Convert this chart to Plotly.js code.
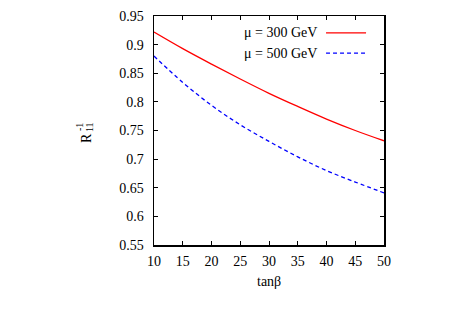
<!DOCTYPE html>
<html>
<head>
<meta charset="utf-8">
<script src="https://cdn.plot.ly/plotly-3.0.1.min.js"></script>
<style>html,body{margin:0;padding:0;background:#fff;}#chart{width:457px;height:319px;}</style>
</head>
<body>
<div id="chart"></div>
<script>
const tanBeta = [10, 15, 20, 25, 30, 35, 40, 45, 50];
const mu300 = [0.922, 0.893, 0.866, 0.840, 0.815, 0.792, 0.770, 0.750, 0.732];
const mu500 = [0.880, 0.834, 0.794, 0.760, 0.731, 0.704, 0.680, 0.660, 0.641];
const xTicks = [10, 15, 20, 25, 30, 35, 40, 45, 50];
const yTicks = [0.55, 0.6, 0.65, 0.7, 0.75, 0.8, 0.85, 0.9, 0.95];
const yTickText = ["0.55", "0.6", "0.65", "0.7", "0.75", "0.8", "0.85", "0.9", "0.95"];
const seriesNames = ["μ = 300 GeV", "μ = 500 GeV"];

const font = {family: "Times New Roman", size: 14, color: "#000"};
const smallFont = {family: "Times New Roman", size: 10, color: "#000"};

const traces = [
  {x: tanBeta, y: mu300, mode: "lines", line: {color: "#ff0000", width: 1.3, shape: "spline"}, name: seriesNames[0], showlegend: false},
  {x: tanBeta, y: mu500, mode: "lines", line: {color: "#0000ff", width: 1.3, dash: "4px,3px", shape: "spline"}, name: seriesNames[1], showlegend: false}
];

const axisCommon = {
  showgrid: false, zeroline: false, showline: true, linecolor: "#000", linewidth: 1.5,
  mirror: "ticks", ticks: "inside", ticklen: 4, tickwidth: 1, tickcolor: "#000",
  tickfont: font
};

const layout = {
  width: 457, height: 319,
  margin: {l: 154, r: 73, t: 16, b: 74},
  paper_bgcolor: "#fff", plot_bgcolor: "#fff",
  font: font,
  showlegend: false,
  xaxis: Object.assign({}, axisCommon, {range: [10, 50], tickvals: xTicks, ticktext: xTicks.map(String), ticklabelstandoff: 3}),
  yaxis: Object.assign({}, axisCommon, {range: [0.55, 0.95], tickvals: yTicks, ticktext: yTickText, ticklabelstandoff: 6}),
  shapes: [
    {type: "line", xref: "paper", yref: "paper", x0: 0.748, x1: 0.922, y0: 0.926, y1: 0.926, line: {color: "#ff0000", width: 1.3}},
    {type: "line", xref: "paper", yref: "paper", x0: 0.748, x1: 0.922, y0: 0.838, y1: 0.838, line: {color: "#0000ff", width: 1.3, dash: "4px,3px"}}
  ],
  annotations: [
    {text: seriesNames[0], xref: "paper", yref: "paper", x: 0.717, y: 0.926, xanchor: "right", yanchor: "middle", showarrow: false, font: font},
    {text: seriesNames[1], xref: "paper", yref: "paper", x: 0.717, y: 0.838, xanchor: "right", yanchor: "middle", showarrow: false, font: font},
    {text: "tanβ", xref: "paper", yref: "paper", x: 0.5, y: 0, yshift: -36, xanchor: "center", yanchor: "middle", showarrow: false, font: font},
    {text: "R", xref: "paper", yref: "paper", x: 0, xshift: -68, y: 0.467, xanchor: "center", yanchor: "middle", textangle: -90, showarrow: false, font: font},
    {text: "11", xref: "paper", yref: "paper", x: 0, xshift: -65, y: 0.515, xanchor: "center", yanchor: "middle", textangle: -90, showarrow: false, font: smallFont},
    {text: "-1", xref: "paper", yref: "paper", x: 0, xshift: -75, y: 0.515, xanchor: "center", yanchor: "middle", textangle: -90, showarrow: false, font: smallFont}
  ]
};

Plotly.newPlot("chart", traces, layout, {staticPlot: true, displayModeBar: false});
</script>
</body>
</html>
